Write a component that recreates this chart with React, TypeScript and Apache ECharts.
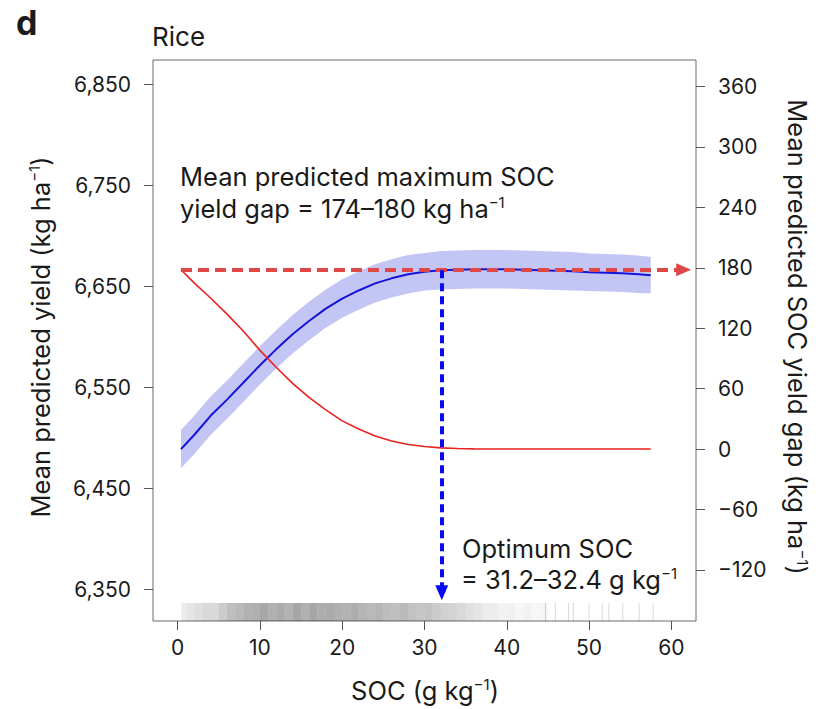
import React, { useEffect, useRef } from 'react';
import * as echarts from 'echarts';

// ---- data ----
const SOC = [0.4, 2, 4, 6, 8, 10, 12, 14, 16, 18, 20, 22, 24, 26, 28, 30, 32, 34, 36, 38, 40, 42, 44, 46, 48, 50, 52, 54, 56, 57.5];
const YIELD = [6489, 6503, 6522, 6538, 6555, 6572, 6588, 6603, 6616, 6628, 6638, 6646, 6653, 6658, 6662, 6664.5, 6666, 6666.5, 6667, 6667, 6667, 6666.5, 6666, 6665.5, 6665, 6664, 6663.5, 6663, 6662, 6661];
const YIELD_LO = [6470, 6484, 6503, 6519, 6536, 6553, 6569, 6584, 6597, 6609, 6619, 6627, 6634, 6639, 6643, 6646, 6647, 6647.5, 6648, 6648, 6648, 6647.5, 6647, 6646.5, 6646, 6645.5, 6645, 6644.5, 6643.5, 6643];
const YIELD_HI = [6508, 6522, 6541, 6557, 6574, 6591, 6607, 6622, 6635, 6647, 6657, 6665, 6672, 6677, 6681, 6683, 6685, 6685.5, 6686, 6686, 6686, 6685.5, 6685, 6684.5, 6684, 6682.5, 6682, 6681.5, 6680.5, 6679];
const GAP = [178, 165, 150, 134, 117, 98, 81, 65, 51, 39, 28, 20, 13, 8, 4.5, 2.5, 1.2, 0.5, 0.2, 0, 0, 0, 0, 0, 0, 0, 0, 0, 0, 0];

const MAX_GAP_LEVEL = 178;        // dashed red line level (right axis)
const GAP_ARROW_END = 61.5;       // SOC where red arrow ends
const OPT_SOC = 32.1;             // optimum SOC (blue dashed line)
const OPT_YIELD = 6666;           // yield at optimum
const OPT_ARROW_END = 6347;       // yield where blue arrow ends

// rug of observations: bin start and relative density
const RUG_START = [0.45, 1, 2, 3, 4, 5, 6, 7, 8, 9, 10, 11, 12, 13, 14, 15, 16, 17, 18, 19, 20, 21, 22, 23, 24, 25, 26, 27, 28, 29, 30, 31, 32, 33, 34, 35, 36, 37, 38, 39, 40, 41, 42, 43, 44];
const RUG_DENSITY = [0.15, 0.2, 0.25, 0.3, 0.3, 0.4, 0.5, 0.55, 0.6, 0.62, 0.68, 0.62, 0.66, 0.6, 0.7, 0.62, 0.7, 0.64, 0.66, 0.62, 0.6, 0.64, 0.58, 0.55, 0.58, 0.52, 0.5, 0.54, 0.48, 0.45, 0.47, 0.4, 0.36, 0.34, 0.3, 0.24, 0.2, 0.15, 0.14, 0.1, 0.12, 0.07, 0.1, 0.06, 0.08];
// isolated observations in the sparse tail
const RUG_SINGLE = [44.7, 45.9, 47.5, 48.1, 50.0, 51.6, 52.4, 54.1, 56.1, 57.8];

const X_TICKS = [0, 10, 20, 30, 40, 50, 60];
const LEFT_TICKS = [6350, 6450, 6550, 6650, 6750, 6850];
const RIGHT_TICKS = [-120, -60, 0, 60, 120, 180, 240, 300, 360];

const X_MIN = -3, X_MAX = 63;
const L_MIN = 6319, L_MAX = 6874;
const R_MIN = -170.7, R_MAX = 386.3;

const FONT = 'Inter';
const TXT = '#1a1a1a';
const BIG = 25.5;

export default function App() {
  const ref = useRef<HTMLDivElement>(null);
  useEffect(() => {
    const chart = echarts.init(ref.current!, null, { renderer: 'svg' });

    const textBase = { fontFamily: FONT, fill: TXT };
    const rich = (size: number) => ({
      t: { fontSize: size, fontFamily: FONT, fill: TXT, color: TXT },
      s: { fontSize: Math.round(size * 0.58), fontFamily: FONT, fill: TXT, color: TXT, verticalAlign: 'top' },
    });
    const tickStyle = { show: true, length: 9, lineStyle: { color: '#555', width: 1 } };

    const rugItems = RUG_START.map((x, i) => [x, RUG_DENSITY[i], (RUG_START[i + 1] ?? 45) - x])
      .concat(RUG_SINGLE.map((x) => [x, 0.3, 0]));

    const option: any = {
      animation: false,
      backgroundColor: '#ffffff',
      grid: { left: 153, right: 129, top: 60, bottom: 88, show: true, borderColor: '#6b6b6b', borderWidth: 1 },
      xAxis: {
        type: 'value', min: X_MIN, max: X_MAX,
        axisLine: { show: false, onZero: false }, splitLine: { show: false },
        axisTick: { ...tickStyle, customValues: X_TICKS },
        axisLabel: { customValues: X_TICKS, fontSize: 21, color: TXT, fontFamily: FONT, margin: 16 },
      },
      yAxis: [
        {
          type: 'value', position: 'left', min: L_MIN, max: L_MAX,
          axisLine: { show: false, onZero: false }, splitLine: { show: false },
          axisTick: { ...tickStyle, customValues: LEFT_TICKS },
          axisLabel: { customValues: LEFT_TICKS, fontSize: 21, color: TXT, fontFamily: FONT, margin: 22,
            formatter: (v: number) => v.toLocaleString('en-US') },
        },
        {
          type: 'value', position: 'right', min: R_MIN, max: R_MAX,
          axisLine: { show: false, onZero: false }, splitLine: { show: false },
          axisTick: { ...tickStyle, customValues: RIGHT_TICKS },
          axisLabel: { customValues: RIGHT_TICKS, fontSize: 21, color: TXT, fontFamily: FONT, margin: 22,
            formatter: (v: number) => (v < 0 ? '\u2212' + Math.abs(v) : String(v)) },
        },
      ],
      series: [
        {
          type: 'custom', name: 'band', yAxisIndex: 0, z: 1, silent: true,
          data: SOC.map((x, i) => [x, YIELD_LO[i], YIELD_HI[i]]),
          renderItem: (params: any, api: any) => {
            if (params.dataIndex !== 0) return null;
            const upper = SOC.map((x, i) => api.coord([x, YIELD_HI[i]]));
            const lower = SOC.map((x, i) => api.coord([x, YIELD_LO[i]])).reverse();
            return { type: 'polygon', shape: { points: upper.concat(lower) }, style: { fill: '#c3c6f5' } };
          },
        },
        {
          type: 'custom', name: 'rug', yAxisIndex: 0, z: 1, silent: true,
          data: rugItems,
          renderItem: (params: any, api: any) => {
            const x0 = api.value(0), d = api.value(1), w = api.value(2);
            const p0 = api.coord([x0, L_MIN]);
            if (w === 0) {
              return { type: 'line', shape: { x1: p0[0], y1: p0[1] - 18, x2: p0[0], y2: p0[1] },
                style: { stroke: `rgba(0,0,0,${(d * 0.5).toFixed(3)})`, lineWidth: 1 } };
            }
            const p1 = api.coord([x0 + w, L_MIN]);
            return { type: 'rect', shape: { x: p0[0], y: p0[1] - 18, width: p1[0] - p0[0], height: 18 },
              style: { fill: `rgba(0,0,0,${(d * 0.5).toFixed(3)})` } };
          },
        },
        {
          type: 'line', name: 'yield', yAxisIndex: 0, z: 3,
          data: SOC.map((x, i) => [x, YIELD[i]]),
          showSymbol: false, symbol: 'none', smooth: false,
          lineStyle: { color: '#1414d8', width: 2 },
          markLine: {
            silent: true, animation: false, z: 6,
            symbol: ['none', 'triangle'], symbolSize: [13, 15],
            label: { show: false },
            lineStyle: { color: '#0a0af0', width: 4, type: [8, 5], opacity: 1 },
            data: [[{ coord: [OPT_SOC, OPT_YIELD] }, { coord: [OPT_SOC, OPT_ARROW_END] }]],
          },
        },
        {
          type: 'line', name: 'gap', yAxisIndex: 1, z: 3,
          data: SOC.map((x, i) => [x, GAP[i]]),
          showSymbol: false, symbol: 'none', smooth: false,
          lineStyle: { color: '#e8221e', width: 1.6 },
          markLine: {
            silent: true, animation: false, z: 5,
            symbol: ['none', 'triangle'], symbolSize: [13, 15],
            label: { show: false },
            lineStyle: { color: '#e04848', width: 4, type: [11, 6], opacity: 1 },
            data: [[{ coord: [SOC[0], MAX_GAP_LEVEL] }, { coord: [GAP_ARROW_END, MAX_GAP_LEVEL] }]],
          },
        },
      ],
      graphic: [
        { type: 'text', x: 16, y: 22, style: { ...textBase, text: 'd', fontSize: 34, fontWeight: 'bold', align: 'left', verticalAlign: 'middle' } },
        { type: 'text', x: 152, y: 36, style: { ...textBase, text: 'Rice', fontSize: 26, align: 'left', verticalAlign: 'middle' } },
        { type: 'text', x: 180, y: 176, style: { ...textBase, text: 'Mean predicted maximum SOC', fontSize: BIG, align: 'left', verticalAlign: 'middle' } },
        { type: 'text', x: 180, y: 208, style: { text: '{t|yield gap = 174\u2013180 kg ha}{s|\u22121}', rich: rich(BIG), align: 'left', verticalAlign: 'middle' } },
        { type: 'text', x: 462, y: 548, style: { ...textBase, text: 'Optimum SOC', fontSize: BIG, align: 'left', verticalAlign: 'middle' } },
        { type: 'text', x: 461, y: 579, style: { text: '{t|= 31.2\u201332.4 g kg}{s|\u22121}', rich: rich(BIG), align: 'left', verticalAlign: 'middle' } },
        { type: 'text', x: 425, y: 690, style: { text: '{t|SOC (g kg}{s|\u22121}{t|)}', rich: rich(BIG), align: 'center', verticalAlign: 'middle' } },
        { type: 'text', x: 40, y: 337, rotation: Math.PI / 2, style: { text: '{t|Mean predicted yield (kg ha}{s|\u22121}{t|)}', rich: rich(BIG), align: 'center', verticalAlign: 'middle' } },
        { type: 'text', x: 797, y: 337, rotation: -Math.PI / 2, style: { text: '{t|Mean predicted SOC yield gap (kg ha}{s|\u22121}{t|)}', rich: rich(BIG), align: 'center', verticalAlign: 'middle' } },
      ],
    };
    chart.setOption(option);
    return () => chart.dispose();
  }, []);
  return <div ref={ref} style={{ position: 'fixed', left: 0, top: 0, width: 825, height: 709, background: '#fff' }} />;
}
